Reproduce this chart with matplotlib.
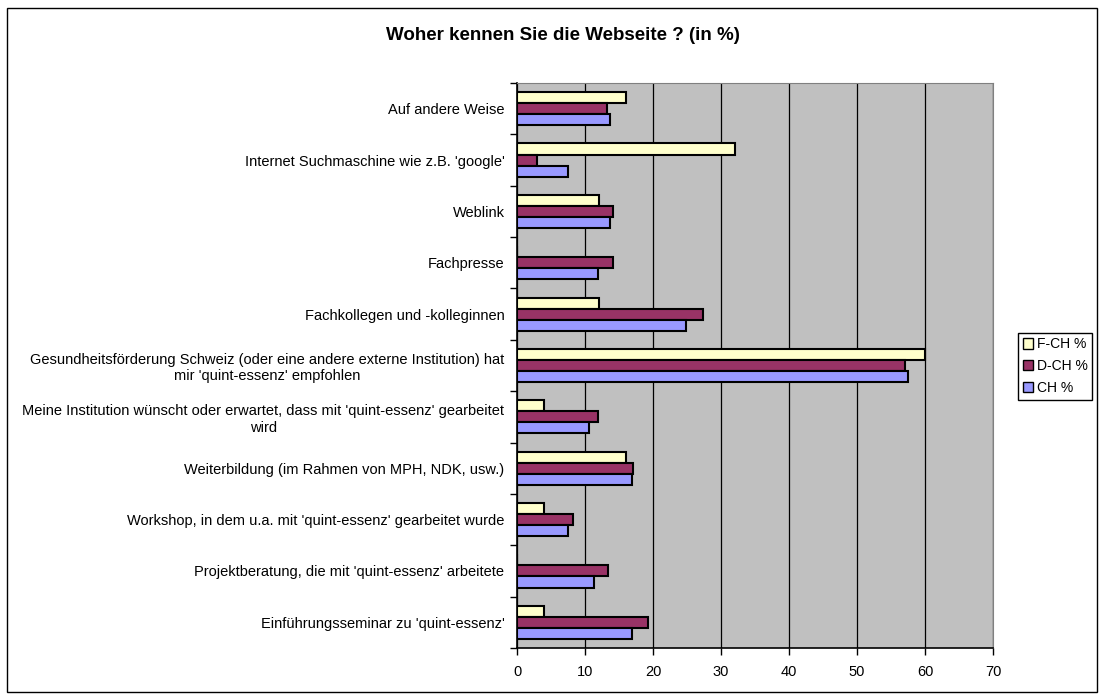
import matplotlib.pyplot as plt
from matplotlib.patches import Rectangle, Patch
from matplotlib.ticker import FixedLocator
import numpy as np

plt.rcParams['font.family'] = ['Liberation Sans', 'DejaVu Sans']

# categories from bottom to top
categories = [
    "Einführungsseminar zu 'quint-essenz'",
    "Projektberatung, die mit 'quint-essenz' arbeitete",
    "Workshop, in dem u.a. mit 'quint-essenz' gearbeitet wurde",
    "Weiterbildung (im Rahmen von MPH, NDK, usw.)",
    "Meine Institution wünscht oder erwartet, dass mit 'quint-essenz' gearbeitet\nwird",
    "Gesundheitsförderung Schweiz (oder eine andere externe Institution) hat\nmir 'quint-essenz' empfohlen",
    "Fachkollegen und -kolleginnen",
    "Fachpresse",
    "Weblink",
    "Internet Suchmaschine wie z.B. 'google'",
    "Auf andere Weise",
]
fch = [4.0, 0.0, 4.0, 16.0, 4.0, 60.0, 12.0, 0.0, 12.0, 32.0, 16.0]
dch = [19.3, 13.4, 8.2, 17.1, 11.9, 57.1, 27.4, 14.1, 14.1, 3.0, 13.3]
ch = [16.9, 11.3, 7.5, 16.9, 10.6, 57.5, 24.9, 11.9, 13.7, 7.5, 13.7]
series_names = ['F-CH %', 'D-CH %', 'CH %']
xticks = [0, 10, 20, 30, 40, 50, 60, 70]

colors = ['#FFFFCC', '#993366', '#9999FF']

W, H = 1099, 694
fig = plt.figure(figsize=(W / 100, H / 100), dpi=100)
ax = fig.add_axes([517 / W, 1 - 648 / H, (993 - 517) / W, (648 - 83) / H])
ax.set_facecolor('#C0C0C0')

y = np.arange(len(categories))
h = 0.215
for vals, off, c in zip([fch, dch, ch], [h, 0, -h], colors):
    ax.barh(y + off, vals, height=h, color=c, edgecolor='black', linewidth=1.5, zorder=3)

ax.set_xlim(0, 70)
ax.set_ylim(-0.5, len(categories) - 0.5)
ax.set_xticks(xticks)
ax.xaxis.grid(True, color='black', linewidth=0.9, zorder=1)
ax.set_axisbelow(True)

ax.set_yticks(y)
ax.set_yticklabels(categories, fontsize=10.5)
for lab in ax.get_yticklabels():
    lab.set_multialignment('center')
ax.yaxis.set_minor_locator(FixedLocator(np.arange(-0.5, len(categories), 1.0)))
ax.tick_params(axis='y', which='major', length=0, pad=9)
ax.tick_params(axis='y', which='minor', length=5, width=1, color='black')
ax.tick_params(axis='x', length=5, width=1, labelsize=10.5, pad=7)

for s in ['top', 'right']:
    ax.spines[s].set_color('#808080')
for s in ['left', 'bottom']:
    ax.spines[s].set_color('black')
    ax.spines[s].set_linewidth(1.2)

fig.text(563 / W, 1 - 35 / H, 'Woher kennen Sie die Webseite ? (in %)',
         ha='center', va='center', fontsize=13.5, fontweight='bold')

handles = [Patch(facecolor=c, edgecolor='black', linewidth=1) for c in colors]
leg = fig.legend(handles, series_names, loc='center left',
                 bbox_to_anchor=(1018 / W, 1 - 366 / H), fontsize=10,
                 handlelength=0.75, handleheight=0.75, handletextpad=0.25,
                 borderpad=0.35, labelspacing=0.55, borderaxespad=0,
                 fancybox=False, edgecolor='black', framealpha=1)
leg.get_frame().set_linewidth(1)

fig.patches.append(Rectangle((7 / W, 2 / H), (1097 - 7) / W, (686 - 2) / H,
                             transform=fig.transFigure, fill=False,
                             edgecolor='black', linewidth=1))

fig.savefig('out.png', dpi=100)
